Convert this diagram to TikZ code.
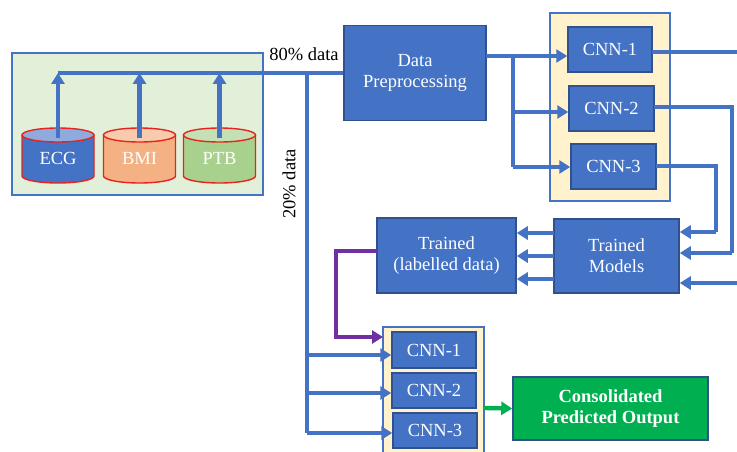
\documentclass[tikz,border=0pt]{standalone}
\usepackage{fontspec}
\setmainfont{Liberation Serif}
\usetikzlibrary{arrows.meta}
\definecolor{obl}{HTML}{4472C4}
\definecolor{obd}{HTML}{2F528F}
\definecolor{ylw}{HTML}{FFF2CC}
\definecolor{lgr}{HTML}{E2F0D9}
\definecolor{grn}{HTML}{00B050}
\definecolor{prp}{HTML}{7030A0}
\definecolor{cred}{HTML}{E8231F}
\definecolor{ecgtop}{HTML}{8FAADC}
\definecolor{bmib}{HTML}{F4B183}
\definecolor{bmit}{HTML}{F8CBAD}
\definecolor{ptbb}{HTML}{A9D18E}
\definecolor{ptbt}{HTML}{C5E0B4}
\newcommand{\mycyl}[4]{%
  \fill[#2] (#1-36,135) -- (#1-36,176) arc[start angle=180,end angle=360,x radius=36pt,y radius=7pt] -- (#1+36,135) -- cycle;
  \draw[cred,line width=1.4pt] (#1-36,135) -- (#1-36,176) arc[start angle=180,end angle=360,x radius=36pt,y radius=7pt] -- (#1+36,135);
  \filldraw[fill=#3,draw=cred,line width=1.4pt] (#1,135) ellipse[x radius=36pt,y radius=7pt];
}
\begin{document}
\begin{tikzpicture}[x=1pt,y=-1pt,
  txt/.style={font=\fontsize{18.5}{21}\selectfont},
  bbox/.style={txt,draw=obd,line width=1.5pt,fill=obl,text=white,align=center,inner sep=0pt},
  conn/.style={draw=obl,line width=4.4pt},
  arr/.style={conn,-{Triangle[length=11pt,width=13pt]}},
  cont/.style={draw=obl,line width=1.5pt,fill=ylw}]
\useasboundingbox (0,0) rectangle (737,452);
% left data box
\filldraw[fill=lgr,draw=obl,line width=1.5pt] (12,53) rectangle (263,195);
\mycyl{58}{obl}{ecgtop}{ECG}
\mycyl{139.5}{bmib}{bmit}{BMI}
\mycyl{219.5}{ptbb}{ptbt}{PTB}
\node[txt,text=white] (ecg) at (58,158) {ECG};
\node[txt,text=white] (bmi) at (139.5,158) {BMI};
\node[txt,text=white] (ptb) at (219.5,158) {PTB};
\coordinate (ecgt) at (58,138);
\coordinate (bmit) at (139.5,138);
\coordinate (ptbt) at (219.5,138);
\coordinate (hl) at (58,73);
\coordinate (hb) at (139.5,73);
\coordinate (hp) at (219.5,73);
% containers
\filldraw[cont] (550,13) rectangle (670,201);
\filldraw[cont] (383,327) rectangle (484,470);
% boxes
\node[bbox,minimum width=142pt,minimum height=95pt] (dp) at (415,73) {Data\\Preprocessing};
\node[bbox,minimum width=84pt,minimum height=45pt] (c1) at (610,49.5) {CNN-1};
\node[bbox,minimum width=85pt,minimum height=45pt] (c2) at (611.5,108.5) {CNN-2};
\node[bbox,minimum width=85pt,minimum height=45pt] (c3) at (613.5,166.5) {CNN-3};
\node[bbox,minimum width=125pt,minimum height=74pt] (tm) at (616.5,256) {Trained\\Models};
\node[bbox,minimum width=139pt,minimum height=75pt] (tl) at (446.5,255.5) {Trained\\(labelled data)};
\node[bbox,minimum width=84pt,minimum height=36pt] (b1) at (434,350) {CNN-1};
\node[bbox,minimum width=84pt,minimum height=35pt] (b2) at (434,390.5) {CNN-2};
\node[bbox,minimum width=84pt,minimum height=35pt] (b3) at (435,430.5) {CNN-3};
\node[txt,draw=obd,line width=1.5pt,fill=grn,text=white,align=center,font=\fontsize{18.5}{21}\selectfont\bfseries,minimum width=195pt,minimum height=63pt,inner sep=0pt] (out) at (610.5,408.5) {Consolidated\\Predicted Output};
% labels
\node[txt] (l80) at (304,54) {80\% data};
\node[txt,rotate=90] (l20) at (289,184) {20\% data};
% input arrows
\draw[arr] (ecgt) -- (hl);
\draw[arr] (bmit) -- (hb);
\draw[arr] (ptbt) -- (hp);
\draw[conn] (hl) -- (dp.west);
% 20% branch
\coordinate (vt) at (307,73);
\coordinate (v1) at (307,355);
\coordinate (v2) at (307,393);
\coordinate (v3) at (307,433);
\draw[conn] (vt) -- (v3);
\draw[arr] (v1) -- (v1 -| b1.west);
\draw[arr] (v2) -- (v2 -| b2.west);
\draw[arr] (v3) -- (v3 -| b3.west);
% DP to CNNs
\coordinate (d0) at (486,56);
\coordinate (dbr) at (513,56);
\coordinate (d2) at (513,112);
\coordinate (d3) at (513,167);
\draw[arr] (d0) -- (d0 -| c1.west);
\draw[conn] (dbr) -- (d3);
\draw[arr] (d2) -- (d2 -| c2.west);
\draw[arr] (d3) -- (d3 -| c3.west);
% CNN outputs
\coordinate (o1) at (652,52);
\coordinate (o1e) at (740,52);
\draw[conn] (o1) -- (o1e);
\coordinate (o2) at (654,107);
\coordinate (o2c) at (732,107);
\coordinate (o2d) at (732,253);
\draw[conn] (o2) -- (o2c) -- (o2d);
\draw[arr] (o2d) -- (o2d -| tm.east);
\coordinate (o3) at (656,166);
\coordinate (o3c) at (716,166);
\coordinate (o3d) at (716,232);
\draw[conn] (o3) -- (o3c) -- (o3d);
\draw[arr] (o3d) -- (o3d -| tm.east);
\coordinate (o4) at (740,283);
\draw[arr] (o4) -- (o4 -| tm.east);
% TM to TL
\coordinate (t1) at (554,233);
\coordinate (t2) at (554,256);
\coordinate (t3) at (554,279);
\draw[arr] (t1) -- (t1 -| tl.east);
\draw[arr] (t2) -- (t2 -| tl.east);
\draw[arr] (t3) -- (t3 -| tl.east);
% purple
\coordinate (p0) at (377,251);
\coordinate (p1) at (336,251);
\coordinate (p2) at (336,337);
\coordinate (p3) at (383,337);
\draw[conn,draw=prp,-{Triangle[length=11pt,width=13pt]}] (p0) -- (p1) -- (p2) -- (p3);
% green
\coordinate (g0) at (484,408);
\draw[conn,draw=grn,-{Triangle[length=11pt,width=13pt]}] (g0) -- (out.west);
\end{tikzpicture}
\end{document}
